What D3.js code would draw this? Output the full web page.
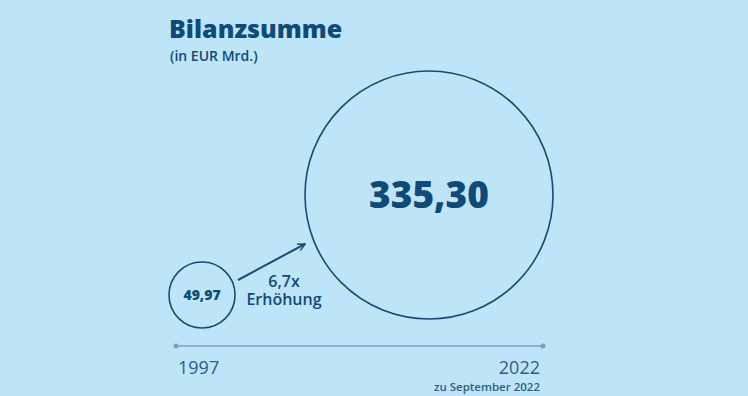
<!DOCTYPE html>
<html>
<head>
    <meta charset="utf-8">
    <script src="https://d3js.org/d3.v7.min.js"></script>
    <style>
        body { margin: 0; background: #bee4f8; }
        text { font-family: "Open Sans", sans-serif; fill: #0f4a78; }
    </style>
</head>
<body>
    <div id="chart"></div>
    <script>
        // data
        const years = ['1997', '2022'];
        const values = [49.97, 335.30];
        const valueLabels = ['49,97', '335,30'];
        const growthLabel = ['6,7x', 'Erhöhung'];
        const dateNote = 'zu September 2022';

        const width = 748, height = 396;
        const svg = d3.select('#chart').append('svg')
            .attr('width', width)
            .attr('height', height);

        svg.append('rect').attr('width', width).attr('height', height).attr('fill', '#bee4f8');

        // title
        svg.append('text').attr('x', 169).attr('y', 38)
            .style('font-size', '25px').style('font-weight', 800)
            .text('Bilanzsumme');
        svg.append('text').attr('x', 170).attr('y', 61)
            .style('font-size', '14px').style('font-weight', 600)
            .text('(in EUR Mrd.)');

        // scales
        const x = d3.scalePoint().domain(years).range([176, 543]);
        const r = d3.scalePow().exponent(0.695).domain([0, d3.max(values)]).range([0, 124]);

        const axisY = 346;
        svg.append('line')
            .attr('x1', x(years[0])).attr('x2', x(years[1]))
            .attr('y1', axisY).attr('y2', axisY)
            .attr('stroke', '#7e9fbb').attr('stroke-width', 1.3);
        svg.selectAll('.dot').data(years).join('circle')
            .attr('cx', d => x(d)).attr('cy', axisY).attr('r', 2.5)
            .attr('fill', '#7e9fbb');

        svg.selectAll('.year').data(years).join('text')
            .attr('x', (d, i) => i === 0 ? x(d) + 2 : x(d) - 3)
            .attr('y', 374)
            .attr('text-anchor', (d, i) => i === 0 ? 'start' : 'end')
            .style('font-size', '18px')
            .style('font-weight', 500)
            .style('fill', '#2f5d84')
            .text(d => d);
        svg.append('text')
            .attr('x', x(years[1]) - 3).attr('y', 391)
            .attr('text-anchor', 'end')
            .style('font-size', '11.5px')
            .style('font-weight', 600)
            .style('fill', '#2f5d84')
            .text(dateNote);

        // bubbles
        const nodes = values.map((v, i) => {
            const rad = r(v);
            const cx = i === 0 ? x(years[i]) + rad - 7 : x(years[i]) - rad + 10;
            const cy = i === 0 ? 295 : 195;
            return { v, rad, cx, cy, label: valueLabels[i] };
        });

        svg.selectAll('.bubble').data(nodes).join('circle')
            .attr('cx', d => d.cx).attr('cy', d => d.cy).attr('r', d => d.rad)
            .attr('fill', 'none').attr('stroke', '#1b4a72').attr('stroke-width', 1.6);

        svg.selectAll('.val').data(nodes).join('text')
            .attr('x', d => d.cx)
            .attr('y', (d, i) => i === 0 ? d.cy + 5 : d.cy + 13)
            .attr('text-anchor', 'middle')
            .style('font-weight', 800)
            .style('font-size', (d, i) => i === 0 ? '14px' : '37px')
            .text(d => d.label);

        // arrow
        svg.append('defs').append('marker')
            .attr('id', 'head').attr('viewBox', '0 0 10 10')
            .attr('refX', 9).attr('refY', 5)
            .attr('markerWidth', 9).attr('markerHeight', 9)
            .attr('markerUnits', 'userSpaceOnUse')
            .attr('orient', 'auto')
            .append('path').attr('d', 'M1,1 L9,5 L1,9')
            .attr('fill', 'none').attr('stroke', '#1b4a72').attr('stroke-width', 1.6);

        svg.append('line')
            .attr('x1', 238).attr('y1', 280)
            .attr('x2', 305).attr('y2', 244)
            .attr('stroke', '#1b4a72').attr('stroke-width', 2)
            .attr('marker-end', 'url(#head)');

        svg.selectAll('.growth').data(growthLabel).join('text')
            .attr('x', 284)
            .attr('y', (d, i) => 287 + i * 18)
            .attr('text-anchor', 'middle')
            .style('font-size', '16px').style('font-weight', 600)
            .text(d => d);
    </script>
</body>
</html>
